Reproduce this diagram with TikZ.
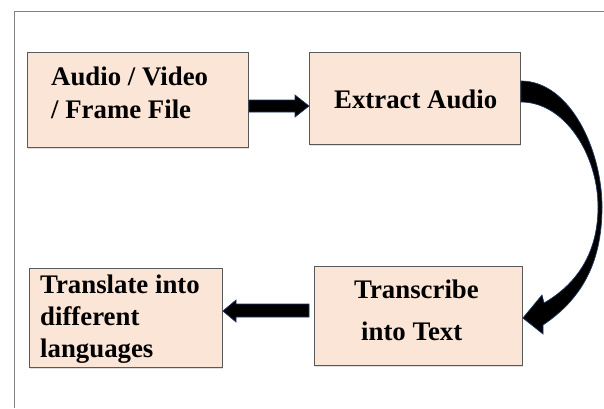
\documentclass[tikz,border=0pt]{standalone}
\usepackage{fontspec}
\setmainfont{Liberation Serif}
\usetikzlibrary{shadows,calc}
\definecolor{boxfill}{RGB}{251,229,214}
\definecolor{boxline}{RGB}{89,89,89}
\definecolor{frameline}{RGB}{130,130,130}
\definecolor{arrowline}{RGB}{31,56,100}
\tikzset{
  stagebox/.style={draw=boxline, line width=0.9pt, fill=boxfill, rectangle,
    anchor=north west, inner sep=0pt,
    drop shadow={shadow xshift=0.6pt, shadow yshift=-1.6pt, opacity=0.25}},
  lbl/.style={font=\fontsize{26.8}{31}\selectfont\bfseries, inner sep=0pt, anchor=base west},
  blockarrow/.style={fill=black, draw=arrowline, line width=0.7pt, line join=miter}
}
\begin{document}
\begin{tikzpicture}[x=1pt,y=-1pt]
\useasboundingbox (0,0) rectangle (604,408);
% outer frame (runs off the right and bottom)
\draw[frameline, line width=1pt] (14,408) -- (14,11) -- (604,11);

% stages
\node[stagebox, minimum width=221, minimum height=95] (src) at (27,52) {};
\node[stagebox, minimum width=211, minimum height=92] (extract) at (309,52) {};
\node[stagebox, minimum width=208, minimum height=99] (transcribe) at (314,266) {};
\node[stagebox, minimum width=193, minimum height=99] (translate) at (29,268) {};

% labels
\node[lbl] (src1) at (51,85) {Audio / Video};
\node[lbl] (src2) at (51,118) {/ Frame File};
\node[lbl] (ext1) at (334,108) {Extract Audio};
\node[lbl] (trc1) at (354,298) {Transcribe};
\node[lbl] (trc2) at (361,340) {into Text};
\node[lbl] (trl1) at (40,293) {Translate into};
\node[lbl] (trl2) at (40,325) {different};
\node[lbl] (trl3) at (40,357) {languages};

% source -> extract
\draw[blockarrow] (src.east |- 0,100) -- (295,100) -- (295,95)
  -- (extract.west |- 0,106) -- (295,117) -- (295,112) -- (src.east |- 0,112) -- cycle;

% extract -> transcribe (curved block arrow)
\draw[blockarrow] (extract.east |- 0,81)
  .. controls (570,81) and (602,150) .. (602,207)
  .. controls (602,265) and (580,300) .. (543,325)
  -- (543,334) -- (transcribe.east |- 0,318) -- (542,295) -- (544,303)
  .. controls (575,285) and (598,255) .. (598,207)
  .. controls (598,155) and (565,102) .. (extract.east |- 0,102) -- cycle;

% transcribe -> translate
\draw[blockarrow] (309,304) -- (236,304) -- (236,300)
  -- (translate.east |- 0,311) -- (236,322) -- (236,317) -- (309,317) -- cycle;
\end{tikzpicture}
\end{document}
